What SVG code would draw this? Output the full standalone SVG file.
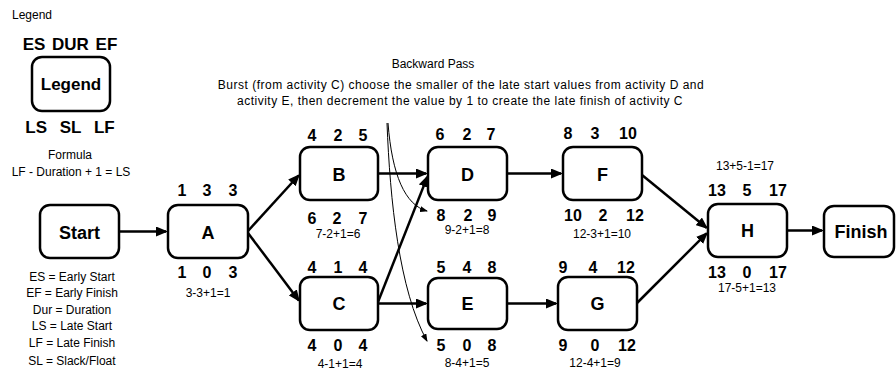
<svg xmlns="http://www.w3.org/2000/svg" width="896" height="369" viewBox="0 0 896 369">
  <style>
    text { font-family: "Liberation Sans", Arial, sans-serif; fill: #000; }
    .box { fill: #fff; stroke: #000; stroke-width: 2.5; }
    .lbl { font-size: 18px; font-weight: bold; text-anchor: middle; }
    .num { font-size: 16px; font-weight: bold; text-anchor: middle; }
    .sm { font-size: 12px; text-anchor: middle; }
    .note { font-size: 12px; letter-spacing: 0.5px; text-anchor: middle; }
    .edge { fill: none; stroke: #000; stroke-width: 2.5; marker-end: url(#arr); }
    .burst { fill: none; stroke: #000; stroke-width: 1; marker-end: url(#arrSmall); }
  </style>
  <defs>
    <marker id="arr" viewBox="0 0 12 10" refX="10" refY="5" markerWidth="12" markerHeight="10" markerUnits="userSpaceOnUse" orient="auto">
      <path d="M0,0 L12,5 L0,10 z" fill="#000"/>
    </marker>
    <marker id="arrSmall" viewBox="0 0 8 6" refX="7" refY="3" markerWidth="8" markerHeight="6" markerUnits="userSpaceOnUse" orient="auto">
      <path d="M0,0 L8,3 L0,6 z" fill="#000"/>
    </marker>
  </defs>

  <!-- legend block -->
  <g id="legend">
    <text x="12" y="19" style="font-size:12px">Legend</text>
    <text class="num" x="70" y="50" style="font-size:17px" word-spacing="2">ES DUR EF</text>
    <rect class="box" x="32" y="57" width="78" height="54" rx="10"/>
    <text class="lbl" x="71" y="90" style="font-size:17px">Legend</text>
    <text class="num" x="70" y="133" style="font-size:17px" word-spacing="8">LS SL LF</text>
    <text class="sm" x="70" y="159">Formula</text>
    <text class="sm" x="71" y="176">LF - Duration + 1 = LS</text>
  </g>

  <g id="abbreviations">
    <text class="sm" x="72" y="281">ES = Early Start</text>
    <text class="sm" x="72" y="297">EF = Early Finish</text>
    <text class="sm" x="72" y="314">Dur = Duration</text>
    <text class="sm" x="72" y="330">LS = Late Start</text>
    <text class="sm" x="72" y="347">LF = Late Finish</text>
    <text class="sm" x="72" y="365">SL = Slack/Float</text>
  </g>

  <g id="heading">
    <text class="sm" x="433" y="68">Backward Pass</text>
    <text class="note" x="461" y="89">Burst (from activity C) choose the smaller of the late start values from activity D and</text>
    <text class="note" x="460" y="105">activity E, then decrement the value by 1 to create the late finish of activity C</text>
  </g>

  <!-- connectors -->
  <g id="connectors">
    <line class="edge" x1="119" y1="231.5" x2="166" y2="231.5"/>
    <line class="edge" x1="248" y1="231" x2="298.6" y2="175.5"/>
    <line class="edge" x1="248" y1="233" x2="298.8" y2="300.4"/>
    <line class="edge" x1="378" y1="173.5" x2="426" y2="173.5"/>
    <line class="edge" x1="378" y1="302" x2="427.3" y2="176.9"/>
    <line class="edge" x1="378" y1="303.5" x2="426" y2="303.5"/>
    <line class="edge" x1="507" y1="173.5" x2="561" y2="173.5"/>
    <line class="edge" x1="507" y1="303.5" x2="556" y2="303.5"/>
    <line class="edge" x1="642" y1="175" x2="706.5" y2="227.7"/>
    <line class="edge" x1="637" y1="303" x2="706.6" y2="233.4"/>
    <line class="edge" x1="787" y1="230.5" x2="822" y2="230.5"/>
    <!-- burst guides from activity C's late values -->
    <path class="burst" d="M388,123 C392,175 405,205 427,211"/>
    <path class="burst" d="M387,123 C390,200 399,290 427,341"/>
  </g>

  <g id="node-start">
    <rect class="box" x="40" y="205" width="79" height="53" rx="10"/>
    <text class="lbl" x="79.5" y="238.5">Start</text>
  </g>

  <g id="node-a">
    <rect class="box" x="168" y="205" width="80" height="53" rx="10"/>
    <text class="lbl" x="208" y="238.5">A</text>
    <text class="num" x="182" y="196">1</text><text class="num" x="207" y="196">3</text><text class="num" x="233" y="196">3</text>
    <text class="num" x="182" y="278">1</text><text class="num" x="207" y="278">0</text><text class="num" x="233" y="278">3</text>
    <text class="sm" x="208" y="296.5">3-3+1=1</text>
  </g>

  <g id="node-b">
    <rect class="box" x="300" y="147" width="78" height="53" rx="10"/>
    <text class="lbl" x="339" y="180.5">B</text>
    <text class="num" x="312" y="141">4</text><text class="num" x="338" y="141">2</text><text class="num" x="363" y="141">5</text>
    <text class="num" x="312" y="224">6</text><text class="num" x="337" y="224">2</text><text class="num" x="363" y="224">7</text>
    <text class="sm" x="338" y="237.5">7-2+1=6</text>
  </g>

  <g id="node-c">
    <rect class="box" x="300" y="277" width="78" height="53" rx="10"/>
    <text class="lbl" x="339" y="310">C</text>
    <text class="num" x="312" y="273">4</text><text class="num" x="338" y="273">1</text><text class="num" x="363" y="273">4</text>
    <text class="num" x="312" y="351">4</text><text class="num" x="338" y="351">0</text><text class="num" x="363" y="351">4</text>
    <text class="sm" x="340" y="367.5">4-1+1=4</text>
  </g>

  <g id="node-d">
    <rect class="box" x="428" y="147" width="79" height="53" rx="10"/>
    <text class="lbl" x="467.5" y="180.5">D</text>
    <text class="num" x="440" y="140">6</text><text class="num" x="467" y="140">2</text><text class="num" x="491" y="140">7</text>
    <text class="num" x="441" y="221">8</text><text class="num" x="468" y="221">2</text><text class="num" x="492" y="221">9</text>
    <text class="sm" x="467" y="233.5">9-2+1=8</text>
  </g>

  <g id="node-e">
    <rect class="box" x="428" y="278" width="79" height="51" rx="10"/>
    <text class="lbl" x="467.5" y="310">E</text>
    <text class="num" x="441" y="273">5</text><text class="num" x="467" y="273">4</text><text class="num" x="492" y="273">8</text>
    <text class="num" x="441" y="351">5</text><text class="num" x="467" y="351">0</text><text class="num" x="492" y="351">8</text>
    <text class="sm" x="467" y="366.5">8-4+1=5</text>
  </g>

  <g id="node-f">
    <rect class="box" x="563" y="147" width="79" height="53" rx="10"/>
    <text class="lbl" x="602.5" y="180.5">F</text>
    <text class="num" x="568" y="139">8</text><text class="num" x="595" y="139">3</text><text class="num" x="628" y="139">10</text>
    <text class="num" x="573" y="221">10</text><text class="num" x="603" y="221">2</text><text class="num" x="635" y="221">12</text>
    <text class="sm" x="602" y="237.5">12-3+1=10</text>
  </g>

  <g id="node-g">
    <rect class="box" x="558" y="277" width="79" height="53" rx="10"/>
    <text class="lbl" x="597.5" y="310">G</text>
    <text class="num" x="563" y="273">9</text><text class="num" x="593" y="273">4</text><text class="num" x="626" y="273">12</text>
    <text class="num" x="563" y="351">9</text><text class="num" x="595" y="351">0</text><text class="num" x="627" y="351">12</text>
    <text class="sm" x="595" y="366.5">12-4+1=9</text>
  </g>

  <g id="node-h">
    <rect class="box" x="708" y="204" width="79" height="53" rx="10"/>
    <text class="lbl" x="747.5" y="237">H</text>
    <text class="sm" x="745" y="169.5">13+5-1=17</text>
    <text class="num" x="717" y="196">13</text><text class="num" x="747" y="196">5</text><text class="num" x="778" y="196">17</text>
    <text class="num" x="717" y="278">13</text><text class="num" x="747" y="278">0</text><text class="num" x="778" y="278">17</text>
    <text class="sm" x="747" y="291.5">17-5+1=13</text>
  </g>

  <g id="node-finish">
    <rect class="box" x="824" y="206" width="70" height="51" rx="10"/>
    <text class="lbl" x="861" y="237.5">Finish</text>
  </g>
</svg>
